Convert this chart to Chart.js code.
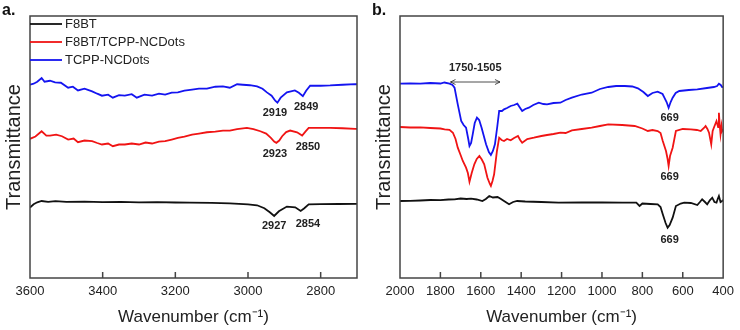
<!DOCTYPE html>
<html lang="en">
<head>
<meta charset="UTF-8">
<title>FTIR spectra</title>
<script src="https://cdn.jsdelivr.net/npm/chart.js@4.4.0/dist/chart.umd.min.js"></script>
<style>
  body { margin: 0; background: #fff; }
  .panel { position: absolute; top: 0; width: 370px; height: 330px; }
</style>
</head>
<body>
<div class="panel" style="left:0"><canvas id="chartA" width="370" height="330"></canvas></div>
<div class="panel" style="left:370px"><canvas id="chartB" width="370" height="330"></canvas></div>
<script>
// series names
var names = ['F8BT', 'F8BT/TCPP-NCDots', 'TCPP-NCDots'];

// panel a: 3600-2700 cm-1 (transmittance, arbitrary offset units)
var aTicks = [3600, 3400, 3200, 3000, 2800];
var aBlackWn = [3600, 3590, 3580, 3568, 3550, 3530, 3500, 3450, 3400, 3350, 3300, 3250, 3200, 3160, 3100, 3050, 3000, 2975, 2955, 2940, 2928, 2915, 2893, 2870, 2855, 2845, 2833, 2800, 2750, 2700];
var aBlackT = [70.7, 74, 76, 77.3, 76.5, 77.2, 76.5, 76.7, 76.2, 76.5, 76, 76.2, 75.8, 75.7, 75.5, 75, 74, 73, 70, 66, 62.3, 67, 71.7, 71, 67.3, 70, 74, 74.2, 74.3, 74.5];
var aRedWn = [3600, 3585, 3568, 3555, 3545, 3528, 3512, 3495, 3480, 3468, 3450, 3429, 3415, 3402, 3385, 3372, 3355, 3339, 3320, 3300, 3282, 3264, 3245, 3228, 3210, 3193, 3175, 3154, 3135, 3113, 3090, 3069, 3050, 3030, 3003, 2985, 2966, 2950, 2937, 2928, 2922, 2914, 2906, 2895, 2884, 2865, 2851, 2842, 2833, 2800, 2774, 2740, 2705, 2700];
var aRedT = [139.7, 142, 147.3, 143, 143, 144, 142.3, 139, 140, 136.3, 138, 137.3, 135.5, 134, 135, 132.3, 134, 134, 135, 134, 136, 135, 137, 137.3, 139, 140.7, 142, 144, 145, 146.3, 147, 148, 148, 149.5, 150.7, 149.5, 147.3, 145, 140.7, 137, 135.7, 138, 142.3, 146.5, 148, 146.3, 143, 147, 150.7, 150.7, 150.7, 150.3, 149.7, 149.7];
var aBlueWn = [3600, 3590, 3580, 3568, 3560, 3545, 3531, 3515, 3495, 3482, 3468, 3450, 3429, 3415, 3402, 3385, 3372, 3355, 3339, 3320, 3306, 3285, 3264, 3245, 3228, 3210, 3193, 3175, 3154, 3135, 3113, 3090, 3069, 3050, 3030, 3014, 2995, 2975, 2960, 2948, 2935, 2925, 2919, 2910, 2893, 2871, 2860, 2849, 2840, 2829, 2800, 2774, 2740, 2705, 2700];
var aBlueT = [194, 195, 197, 200.7, 197, 198, 196.3, 196, 191, 192, 188.3, 190, 187.3, 185, 183, 184, 181, 183.5, 183, 184.5, 181, 184, 183, 185, 184, 186, 186.3, 188, 189, 190, 190, 192, 192.3, 191, 194.5, 194, 193.5, 192.3, 190, 186.3, 183, 178, 176, 181, 186.3, 188.3, 186, 182.5, 188, 193, 193, 193.3, 194, 194.7, 194.5];
var aPeaks = [[2926, 166, '2919'], [2840, 172, '2849'], [2926, 125, '2923'], [2835, 132, '2850'], [2928, 52, '2927'], [2835, 54, '2854']];

// panel b: 2000-400 cm-1
var bTicks = [2000, 1800, 1600, 1400, 1200, 1000, 800, 600, 400];
var bBlackWn = [2000, 1950, 1900, 1850, 1800, 1760, 1730, 1700, 1670, 1648, 1620, 1592, 1575, 1558, 1540, 1517, 1500, 1485, 1460, 1440, 1420, 1380, 1300, 1215, 1100, 1000, 900, 830, 814, 800, 760, 724, 710, 699, 685, 675, 665, 650, 634, 610, 593, 560, 528, 515, 504, 490, 479, 465, 454, 443, 433, 427, 421, 413, 405, 400];
var bBlackT = [77, 77.2, 77.5, 78, 77.8, 78.5, 78.7, 79.5, 79, 79.3, 78.5, 77, 79, 82, 80.5, 81, 79, 77, 73.7, 76, 77, 76.5, 76, 75.3, 75.5, 75.5, 75.3, 75.3, 72, 74.5, 74, 73.7, 71, 63.7, 55, 50.3, 53, 60.3, 72, 74.5, 75.3, 75, 73, 76, 78.7, 76, 73.7, 78, 80.3, 76, 75.3, 79, 82, 76, 77, 78];
var bRedWn = [2000, 1950, 1900, 1850, 1800, 1779, 1755, 1738, 1725, 1714, 1700, 1689, 1673, 1664, 1656, 1645, 1632, 1620, 1607, 1595, 1583, 1567, 1555, 1550, 1542, 1534, 1520, 1509, 1497, 1485, 1470, 1452, 1435, 1416, 1405, 1395, 1370, 1337, 1300, 1272, 1240, 1206, 1180, 1149, 1100, 1051, 1010, 969, 900, 838, 800, 773, 750, 724, 710, 699, 683, 675, 670, 663, 650, 634, 600, 560, 530, 511, 495, 487, 478, 470, 459, 452, 446, 433, 425, 421, 417, 413, 408, 405, 400];
var bRedT = [151, 150.5, 150.7, 150, 149.5, 148.7, 148.2, 145.3, 139, 130.3, 123, 117, 110.3, 105, 96.3, 105, 113.7, 119, 122, 118.5, 113.7, 100.3, 94, 92, 97, 103.7, 127, 140.3, 138, 137, 139, 137.7, 140, 142, 138, 135.3, 139, 140.3, 142, 143, 144, 145.3, 145, 147.7, 149, 150.3, 152, 153.7, 153, 152, 149.5, 147, 148, 147, 145, 137, 127, 119, 112, 122, 130.3, 147, 149, 148.7, 148, 147, 150, 152, 149, 145.3, 133.7, 147, 150.3, 157, 151, 165.3, 153, 143.7, 152, 147, 149];
var bBlueWn = [2000, 1950, 1900, 1850, 1800, 1780, 1755, 1740, 1730, 1714, 1697, 1685, 1673, 1662, 1656, 1648, 1640, 1630, 1619, 1608, 1596, 1585, 1574, 1560, 1550, 1540, 1530, 1518, 1509, 1495, 1485, 1470, 1452, 1435, 1419, 1405, 1395, 1380, 1362, 1340, 1313, 1290, 1272, 1240, 1206, 1180, 1149, 1100, 1051, 1010, 969, 930, 887, 850, 822, 795, 773, 750, 724, 700, 691, 680, 670, 660, 650, 635, 617, 570, 528, 480, 446, 430, 421, 412, 405, 400];
var bBlueT = [194.3, 194.5, 194.3, 195, 194.5, 195.5, 194.3, 193, 190.3, 173.7, 157, 153, 150.3, 139, 132, 135, 143.7, 155, 160.3, 158, 150.3, 142, 133.7, 126, 123, 127, 133.7, 152, 167, 167, 168.7, 170, 172, 173, 174.3, 170, 167, 169, 170.3, 173, 175.3, 174, 173.7, 175, 175.3, 178, 180.3, 183.5, 185.3, 189, 191, 192, 192, 191.5, 189.7, 186, 182, 185, 186.3, 184, 180.3, 176, 170.3, 176, 180.3, 185, 187, 188, 188.7, 190, 191, 192, 194.3, 193, 191, 191];
var bPeaks = [[665, 160, '669'], [665, 101, '669'], [665, 38, '669']];
var bRange = [1750, 1505, 196, '1750-1505'];

var colors = ['#111111', '#f01414', '#1414f0'];
var FONT = '"Liberation Sans", Arial, sans-serif';

function pts(wn, t) {
  return wn.map(function (w, i) { return { x: w, y: t[i] }; });
}

function makeSets(list) {
  return list.map(function (s, i) {
    return {
      label: names[i],
      data: pts(s[0], s[1]),
      borderColor: colors[i],
      backgroundColor: colors[i],
      borderWidth: 1.8,
      pointRadius: 0,
      tension: 0,
      fill: false
    };
  });
}

// frame, inward ticks, peak labels, inset legend
var decor = {
  id: 'decor',
  afterDraw: function (chart, args, opts) {
    var ctx = chart.ctx, a = chart.chartArea, xs = chart.scales.x, ys = chart.scales.y;
    ctx.save();
    ctx.strokeStyle = '#444';
    ctx.lineWidth = 1.5;
    ctx.strokeRect(a.left, a.top, a.right - a.left, a.bottom - a.top);
    opts.ticks.forEach(function (v) {
      var px = xs.getPixelForValue(v);
      if (px > a.left + 2 && px < a.right - 2) {
        ctx.beginPath();
        ctx.moveTo(px, a.bottom);
        ctx.lineTo(px, a.bottom - 6);
        ctx.stroke();
      }
    });
    ctx.fillStyle = '#222';
    ctx.font = 'bold 11px ' + FONT;
    ctx.textAlign = 'center';
    ctx.textBaseline = 'middle';
    opts.peaks.forEach(function (p) {
      ctx.fillText(p[2], xs.getPixelForValue(p[0]), ys.getPixelForValue(p[1]));
    });
    if (opts.range) {
      var r = opts.range;
      var x1 = xs.getPixelForValue(r[0]), x2 = xs.getPixelForValue(r[1]), y = ys.getPixelForValue(r[2]);
      ctx.fillText(r[3], (x1 + x2) / 2, y - 14);
      ctx.strokeStyle = '#222';
      ctx.lineWidth = 0.8;
      ctx.beginPath();
      ctx.moveTo(x1, y); ctx.lineTo(x2, y);
      ctx.moveTo(x1 + 5, y - 2.5); ctx.lineTo(x1, y); ctx.lineTo(x1 + 5, y + 2.5);
      ctx.moveTo(x2 - 5, y - 2.5); ctx.lineTo(x2, y); ctx.lineTo(x2 - 5, y + 2.5);
      ctx.stroke();
    }
    if (opts.legend) {
      ctx.font = '13px ' + FONT;
      ctx.textAlign = 'left';
      chart.data.datasets.forEach(function (ds, i) {
        var y = a.top + 8 + i * 18;
        ctx.strokeStyle = ds.borderColor;
        ctx.lineWidth = 1.8;
        ctx.beginPath();
        ctx.moveTo(a.left, y);
        ctx.lineTo(a.left + 32, y);
        ctx.stroke();
        ctx.fillStyle = '#222';
        ctx.fillText(ds.label, a.left + 35, y);
      });
    }
    ctx.font = 'bold 16px ' + FONT;
    ctx.textAlign = 'left';
    ctx.textBaseline = 'alphabetic';
    ctx.fillStyle = '#111';
    ctx.fillText(opts.tag, 2, 15);
    ctx.restore();
  }
};

function options(min, max, ymax, ticks, peaks, range, tag, legend) {
  return {
    responsive: false,
    animation: false,
    layout: { padding: { top: 16, right: 13, bottom: 2, left: 1 } },
    plugins: {
      legend: { display: false },
      tooltip: { enabled: false },
      decor: { ticks: ticks, peaks: peaks, range: range, tag: tag, legend: legend }
    },
    scales: {
      x: {
        type: 'linear',
        reverse: true,
        min: min,
        max: max,
        afterBuildTicks: function (s) { s.ticks = ticks.map(function (v) { return { value: v }; }); },
        grid: { display: false, drawTicks: false },
        border: { display: false },
        ticks: {
          padding: 6,
          color: '#222',
          font: { family: FONT, size: 13 },
          callback: function (v) { return String(v); }
        },
        title: {
          display: true,
          text: 'Wavenumber (cm\u207B\u00B9)',
          color: '#222',
          padding: { top: 2, bottom: 0 },
          font: { family: FONT, size: 17 }
        }
      },
      y: {
        min: 0,
        max: ymax,
        grid: { display: false, drawTicks: false },
        border: { display: false },
        ticks: { display: false },
        title: {
          display: true,
          text: 'Transmittance',
          color: '#222',
          padding: { top: 1, bottom: 4 },
          font: { family: FONT, size: 20 }
        }
      }
    }
  };
}

var chartA = new Chart(document.getElementById('chartA'), {
  type: 'line',
  data: { datasets: makeSets([[aBlackWn, aBlackT], [aRedWn, aRedT], [aBlueWn, aBlueT]]) },
  options: options(2700, 3600, 263, aTicks, aPeaks, null, 'a.', true),
  plugins: [decor]
});

var chartB = new Chart(document.getElementById('chartB'), {
  type: 'line',
  data: { datasets: makeSets([[bBlackWn, bBlackT], [bRedWn, bRedT], [bBlueWn, bBlueT]]) },
  options: options(400, 2000, 262, bTicks, bPeaks, bRange, 'b.', false),
  plugins: [decor]
});
</script>
</body>
</html>
